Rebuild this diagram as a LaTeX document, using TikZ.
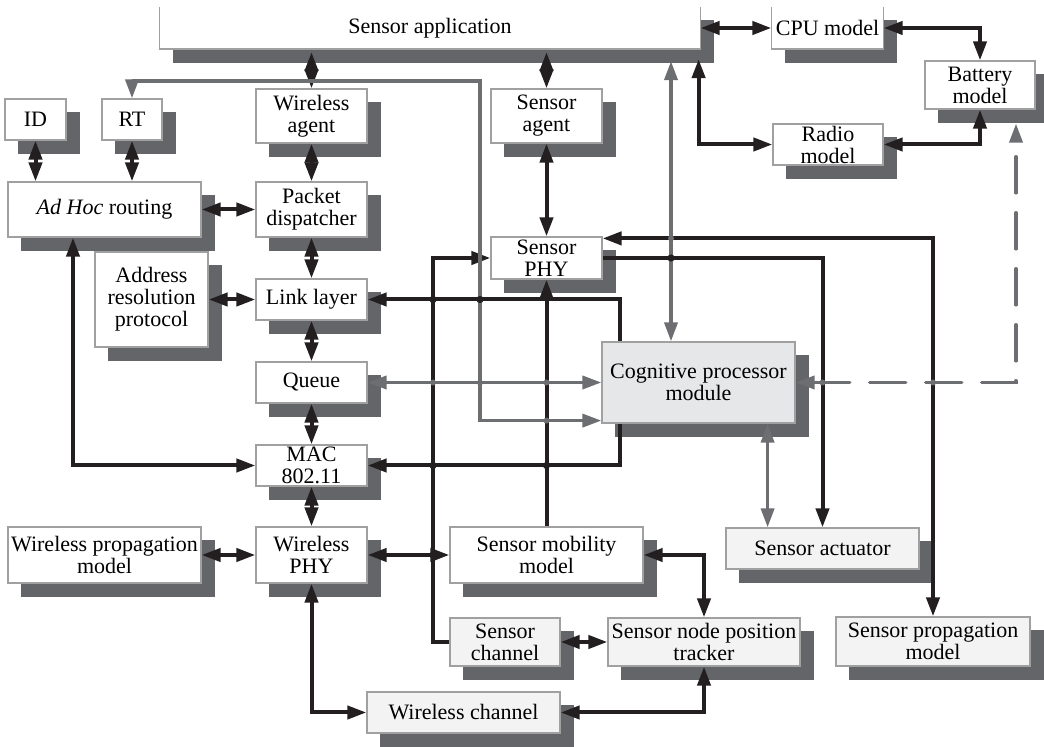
\documentclass[tikz,border=0pt]{standalone}
\usepackage{fontspec}
\setmainfont{Liberation Serif}
\usepackage{xcolor}
\usepackage{tikz}
\usetikzlibrary{arrows.meta, positioning, calc}
\definecolor{linkblack}{RGB}{35, 31, 32}
\definecolor{linkgrey}{RGB}{109, 110, 113}
\definecolor{shadowgrey}{RGB}{100, 101, 104}
\definecolor{edgegrey}{RGB}{160, 160, 160}
\definecolor{softfill}{RGB}{243, 243, 243}
\definecolor{cogfill}{RGB}{230, 231, 232}

\pgfdeclarelayer{shadow}
\pgfdeclarelayer{behind}
\pgfsetlayers{shadow,behind,main}

\tikzset{
    block/.style={draw=edgegrey, line width=0.6pt, fill=white, inner sep=0pt,
                  align=center, font=\fontsize{11}{11}\selectfont},
    narrow/.style={block, minimum width=55.5pt},
    wide/.style={block, minimum width=96.5pt},
    conn/.style={draw=linkblack, line width=2pt},
    gconn/.style={draw=linkgrey, line width=1.8pt}
}

\begin{document}
\begin{tikzpicture}[x=0.5pt, y=-0.5pt, >={Triangle[length=9.5pt,width=6.5pt]}]
    \useasboundingbox (0,0) rectangle (1044,747);

    % application layer and power models
    \node[block, draw=none, minimum width=270pt, minimum height=20.5pt] (app) at (430,28) {Sensor application};
    \node[narrow, draw=none, minimum height=20.5pt] (cpu) at (827.5,28) {CPU model};
    \node[narrow, minimum width=55pt, minimum height=24pt] (batt) at (980,85) {Battery\\model};
    \node[narrow, minimum width=55pt, minimum height=20.5pt] (radio) at (828,144.5) {Radio\\model};

    % wireless protocol stack
    \node[block, minimum width=30.5pt, minimum height=20.5pt] (id) at (35.5,119.5) {ID};
    \node[block, minimum width=30pt, minimum height=20.5pt] (rt) at (132,119.5) {RT};
    \node[narrow, minimum height=27pt] (wagent) at (311.5,116) {Wireless\\agent};
    \node[wide, minimum height=27.5pt] (adhoc) at (104.5,209.5) {\textit{Ad Hoc} routing};
    \node[narrow, minimum height=27.5pt] (pdisp) at (311.5,209.5) {Packet\\dispatcher};
    \node[block, minimum width=56.5pt, minimum height=47.5pt] (arp) at (151.5,299.5) {Address\\resolution\\protocol};
    \node[narrow, minimum height=20.5pt] (link) at (311.5,299.5) {Link layer};
    \node[narrow, minimum height=20.5pt] (queue) at (311.5,382.5) {Queue};
    \node[narrow, minimum height=20.5pt] (mac) at (311.5,465.5) {MAC\\802.11};
    \node[wide, minimum height=28pt] (wpm) at (104.5,555) {Wireless propagation\\model};
    \node[narrow, minimum height=28pt] (wphy) at (311.5,555) {Wireless\\PHY};
    \node[wide, fill=softfill, minimum height=20.5pt] (wchan) at (463.5,712.5) {Wireless channel};

    % sensing side
    \node[narrow, minimum height=27pt] (sagent) at (546.5,116) {Sensor\\agent};
    \node[narrow, minimum height=21pt] (sphy) at (546.5,258) {Sensor\\PHY};
    \node[wide, fill=cogfill, minimum height=40.5pt] (cog) at (698.5,382.5) {Cognitive processor\\module};
    \node[wide, minimum height=28pt] (smob) at (546.5,555) {Sensor mobility\\model};
    \node[wide, fill=softfill, minimum height=20.5pt] (sact) at (822.5,548.5) {Sensor actuator};
    \node[narrow, fill=softfill, minimum width=55pt, minimum height=24pt] (schan) at (505,642) {Sensor\\channel};
    \node[wide, fill=softfill, minimum width=96pt, minimum height=24pt] (track) at (704,642) {Sensor node position\\tracker};
    \node[wide, fill=softfill, minimum width=97pt, minimum height=24.5pt] (sprop) at (933,641.5) {Sensor propagation\\model};

    % open-topped outline for the top row
    \foreach \n in {app,cpu}
        \draw[draw=edgegrey, line width=0.6pt] (\n.north west) |- (\n.south east) -- (\n.north east);

    % drop shadows
    \begin{pgfonlayer}{shadow}
        \foreach \n in {app,cpu,batt,radio,id,rt,wagent,adhoc,pdisp,arp,link,queue,mac,wpm,wphy,wchan,sagent,sphy,cog,smob,sact,schan,track,sprop}
            \fill[shadowgrey] ([shift={(13.5,13.5)}]\n.north west) rectangle ([shift={(13.5,13.5)}]\n.south east);
    \end{pgfonlayer}

    % helper points for the routed lines
    \coordinate (gx) at (480,81);
    \coordinate (sx) at (433,0);
    \coordinate (lx) at (620,299.5);
    \coordinate (cogup) at ([xshift=-13.75pt]cog.north);
    \coordinate (cogdn) at ([xshift=-14pt]cog.south east);
    \coordinate (cogin) at ([yshift=1.5pt]cog.south west);
    \coordinate (phyin) at ([yshift=-1pt]sphy.north east);

    % black links, wireless stack
    \draw[conn,<->] (id.south) -- (id.south |- adhoc.north);
    \draw[conn,<->] (rt.south) -- (rt.south |- adhoc.north);
    \draw[conn,<->] (wagent.north) -- ($(wagent.north |- app.south)+(0,3)$);
    \draw[conn,<->] (wagent) -- (pdisp);
    \draw[conn,<->] (pdisp) -- (link);
    \draw[conn,<->] (link) -- (queue);
    \draw[conn,<->] (queue) -- (mac);
    \draw[conn,<->] (mac) -- (wphy);
    \draw[conn,<->] (adhoc) -- (pdisp);
    \draw[conn,<->] (arp) -- (link);
    \draw[conn,<->] (wpm) -- (wphy);
    \draw[conn,<->] ([xshift=-15.75pt]adhoc.south) |- (mac.west);
    \draw[conn,<->] (wphy.south) |- (wchan.west);
    \begin{pgfonlayer}{behind}
        \draw[conn,<->] (link.east) -| (lx) |- (mac.east);
    \end{pgfonlayer}

    % black links, sensing side
    \draw[conn,<->] (sagent.north) -- ($(sagent.north |- app.south)+(0,3)$);
    \draw[conn,<->] (sagent) -- (sphy);
    \draw[conn,->] (smob) -- (sphy);
    \draw[conn,->] (schan.west) -| (sx |- sphy.west) -- (sphy.west);
    \draw[conn,<->] (wphy) -- (smob);
    \draw[conn,<->] (schan) -- (track);
    \draw[conn,<->] (smob.east) -| (track.north);
    \draw[conn,<->] (wchan.east) -| (track.south);
    \draw[conn,->] (sphy.east) -| (sact.north);
    \draw[conn,<->] (phyin) -| (sprop.north);

    % black links, power models
    \draw[conn,<->] (app) -- (cpu);
    \draw[conn,<->] (cpu.east) -| (batt.north);
    \draw[conn,<->] (radio.east) -| (batt.south);
    \draw[conn,<->] ($(app.south east)+(-2,10)$) |- (radio.west);

    % grey links into the cognitive module
    \draw[gconn,<->] (rt.north) |- (gx) |- (cogin);
    \draw[gconn,<->] (queue) -- (queue -| cog.west);
    \draw[gconn,<->] (cogup) -- ($(cogup |- app.south)+(0,12)$);
    \draw[gconn,<->] (cogdn) -- (cogdn |- sact.north);
    \draw[gconn,<->, dash pattern=on 18pt off 10pt, line cap=round] (cog.east) -| ($(batt.south)+(36,14)$);

    % crossing dots
    \foreach \a/\b in {sx/link.east, sx/mac.east, sx/wphy.east, gx/link.east, smob.north/mac.east, cogup/sphy.east}
        \fill[linkblack] (\a |- \b) circle (1.8pt);
    \foreach \a/\b in {sx/queue.east, gx/queue.east, smob.north/queue.east, smob.north/cogin, sact.north/cog.east, sprop.north/cog.east, cogup/phyin}
        \fill[linkgrey] (\a |- \b) circle (1.5pt);
\end{tikzpicture}
\end{document}
